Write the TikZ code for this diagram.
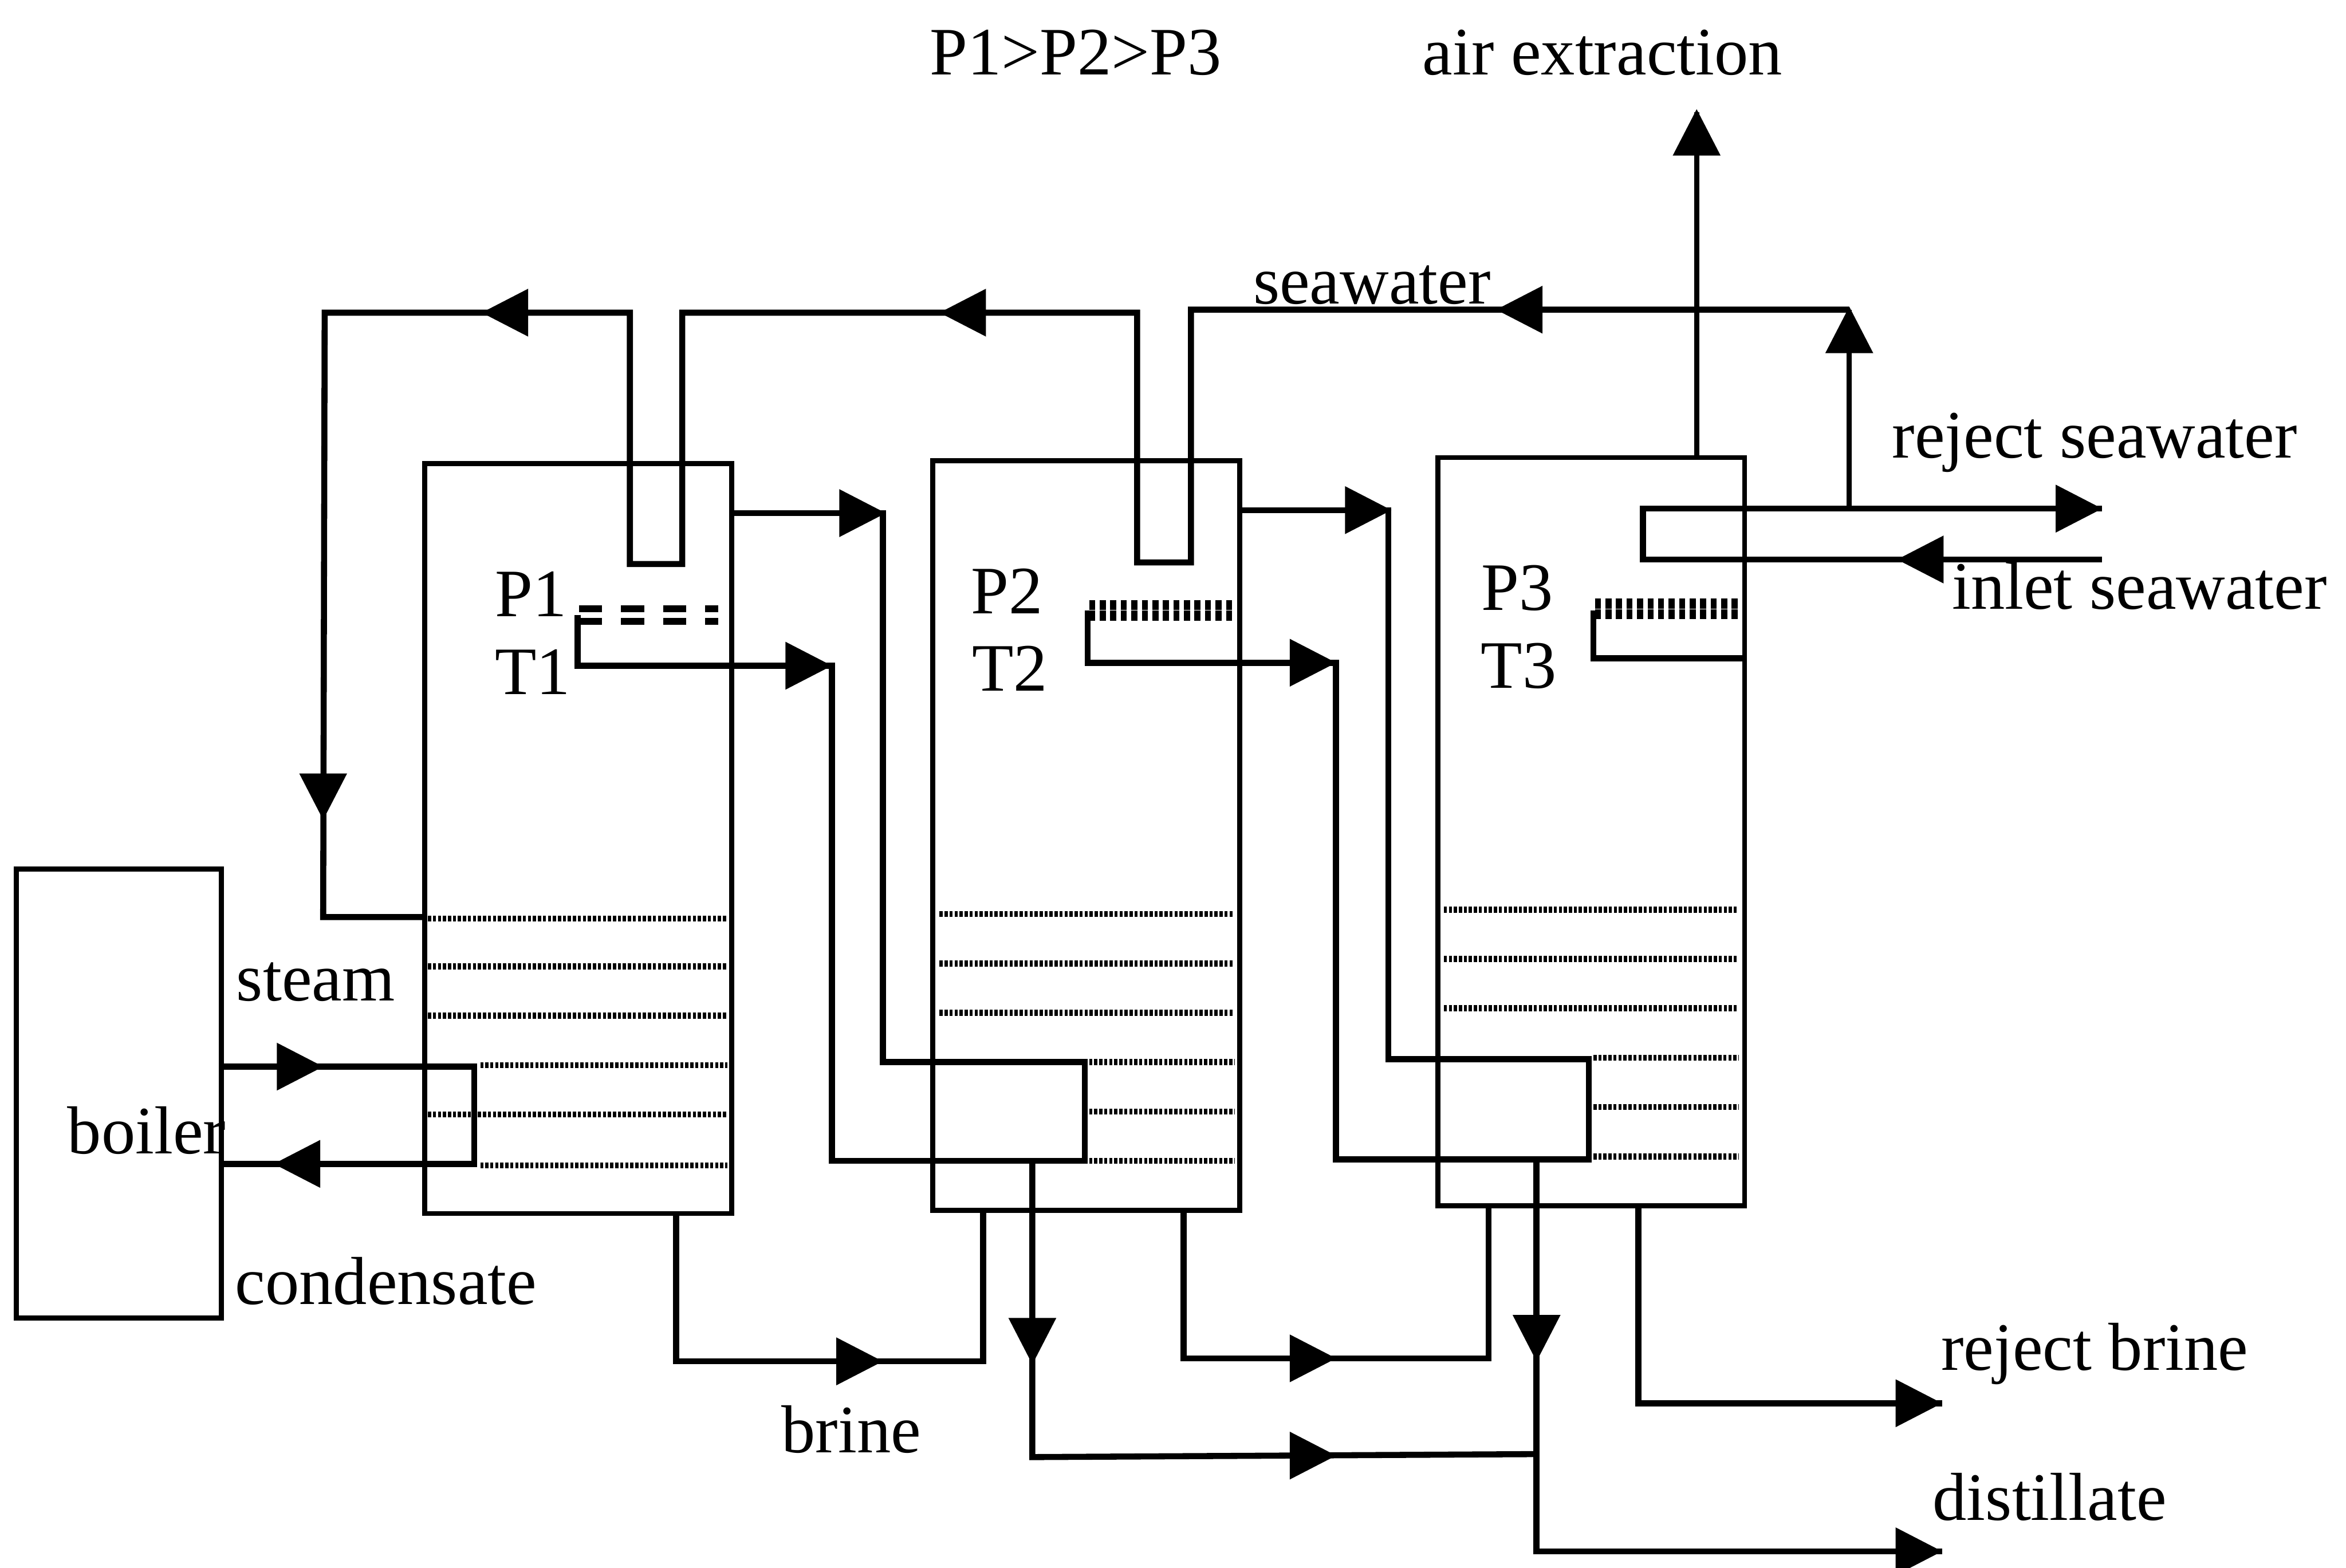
\documentclass[tikz,border=0pt]{standalone}
\usepackage{fontspec}
\setmainfont{Liberation Serif}
\newcommand{\ahead}[2]{\fill[shift={(#1)},rotate=#2] (-31,-16) -- (0,0) -- (-31,16) -- cycle;}
\tikzset{
  vessel/.style={draw,line width=0.95pt,inner sep=0pt,outer sep=0pt,minimum width=2.05cm},
  pipe/.style={line width=1.15pt,line join=miter},
  thin pipe/.style={line width=0.95pt},
  stage/.style={line width=1.15pt,dash pattern=on 0.6pt off 0.35pt},
  spray/.style={line width=1.9pt,dash pattern=on 1.15pt off 0.85pt},
  sprayb/.style={line width=1.3pt,dash pattern=on 4.4pt off 3.6pt},
  lab/.style={anchor=base,inner sep=0pt,font=\fontsize{12.9}{13}\selectfont}
}
\begin{document}
\begin{tikzpicture}[x=0.01cm,y=-0.01cm]
\useasboundingbox (0,0) rectangle (1568,1048);
\fill[white] (0,0) rectangle (1568,1048);

% vessels
\node[vessel,minimum width=1.37cm,minimum height=3.00cm] (boil) at (79.5,731) {};
\node[vessel,minimum height=5.01cm] (c1) at (386.5,560.5) {};
\node[vessel,minimum height=5.01cm] (c2) at (726,558.5) {};
\node[vessel,minimum height=5.00cm] (c3) at (1063.5,556) {};

% stage rows
\foreach \y/\a in {614/286,646/286,679/286,712/321,745/286,779/321}
  \draw[stage] (\a,\y) -- (486,\y);
\foreach \y/\a in {611/628,644/628,677/628,710/728,743/728,776/728}
  \draw[stage] (\a,\y) -- (825,\y);
\foreach \y/\a in {608/965,641/965,674/965,707/1065,740/1065,773/1065}
  \draw[stage] (\a,\y) -- (1162,\y);

% spray bars
\draw[sprayb] (387,407) -- (480,407);
\draw[sprayb] (387,415.5) -- (480,415.5);
\draw[spray] (728,404.5) -- (826,404.5);
\draw[spray] (728,411.5) -- (826,411.5);
\draw[spray] (1066,403.5) -- (1164,403.5);
\draw[spray] (1066,410.5) -- (1164,410.5);

% named ends
\coordinate (swin) at (1236,207);
\coordinate (rej) at (1405,340);
\coordinate (inl) at (1405,374);
\coordinate (air) at (1134,75);
\coordinate (rb) at (1298,938);
\coordinate (dist) at (1298,1037);

% seawater feed
\draw[pipe] (swin) -- (796,207) -- (796,376) -- (760,376) -- (760,209) -- (456,209)
  -- (456,377) -- (421,377) -- (421,209) -- (217,209) -- (216,613) -- (c1.west |- 0,613);
\draw[thin pipe] (1236,340) -- (swin);
\draw[thin pipe] (1134,0 |- c3.north) -- (air);
\draw[pipe] (rej) -- (1098,340) -- (1098,374) -- (inl);

% interstage 1-2
\draw[pipe] (386,411) -- (386,445) -- (556,445) -- (556,776) -- (725,776) -- (725,710)
  -- (590,710) -- (590,343) -- (c1.east |- 0,343);
% interstage 2-3
\draw[pipe] (727,408) -- (727,443) -- (893,443) -- (893,775) -- (1062,775) -- (1062,708)
  -- (928,708) -- (928,341) -- (c2.east |- 0,341);
\draw[pipe] (1065,408) -- (1065,440) -- (c3.east |- 0,440);

% heating steam
\draw[pipe] (boil.east |- 0,713) -- (317,713) -- (317,778) -- (boil.east |- 0,778);

% brine
\draw[pipe] (452,0 |- c1.south) -- (452,910) -- (657,910) -- (657,0 |- c2.south);
\draw[pipe] (791,0 |- c2.south) -- (791,908) -- (995,908) -- (995,0 |- c3.south);
\draw[pipe] (1095,0 |- c3.south) -- (1095,938) -- (rb);

% distillate
\draw[pipe] (690,776) -- (690,974) -- (1027,972);
\draw[pipe] (1027,773) -- (1027,1037) -- (dist);

% arrowheads
\ahead{1000,207}{180}
\ahead{628,209}{180}
\ahead{322,209}{180}
\ahead{216,548}{-90}
\ahead{1134,73}{90}
\ahead{1236,205}{90}
\ahead{1405,340}{0}
\ahead{1268,374}{180}
\ahead{592,343}{0}
\ahead{556,445}{0}
\ahead{930,341}{0}
\ahead{893,443}{0}
\ahead{216,713}{0}
\ahead{183,778}{180}
\ahead{590,910}{0}
\ahead{893,908}{0}
\ahead{1298,938}{0}
\ahead{893,973}{0}
\ahead{1298,1037}{0}
\ahead{690,912}{-90}
\ahead{1027,910}{-90}

% labels
\node[lab] (t0) at (719,50) {P1>P2>P3};
\node[lab] (t1) at (1071,50) {air extraction};
\node[lab] (t2) at (917,203) {seawater};
\node[lab] (t3) at (1400,306) {reject seawater};
\node[lab] (t4) at (1430,407) {inlet seawater};
\node[lab] (t5) at (355,412) {P1};
\node[lab] (t6) at (356,464) {T1};
\node[lab] (t7) at (673,410) {P2};
\node[lab] (t8) at (675,462) {T2};
\node[lab] (t9) at (1014,408) {P3};
\node[lab] (t10) at (1015,460) {T3};
\node[lab] (t11) at (211,669) {steam};
\node[lab] (t12) at (98,771) {boiler};
\node[lab] (t13) at (258,872) {condensate};
\node[lab] (t14) at (569,971) {brine};
\node[lab] (t15) at (1400,916) {reject brine};
\node[lab] (t16) at (1370,1016) {distillate};
\end{tikzpicture}
\end{document}
